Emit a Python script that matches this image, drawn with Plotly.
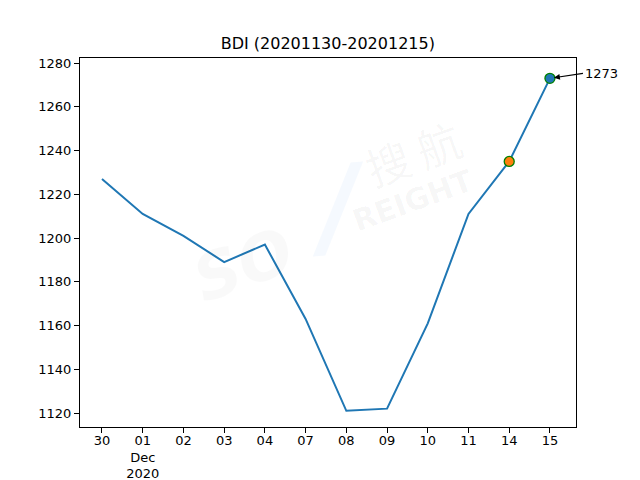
import plotly.graph_objects as go

dates = ["2020-11-30", "2020-12-01", "2020-12-02", "2020-12-03", "2020-12-04",
         "2020-12-07", "2020-12-08", "2020-12-09", "2020-12-10", "2020-12-11",
         "2020-12-14", "2020-12-15"]
tick_labels = ["30", "01<br>Dec<br>2020", "02", "03", "04", "07", "08", "09",
               "10", "11", "14", "15"]
bdi = [1227, 1211, 1201, 1189, 1197, 1163, 1121, 1122, 1161, 1211, 1235, 1273]
yticks = [1120, 1140, 1160, 1180, 1200, 1220, 1240, 1260, 1280]

fig = go.Figure()
fig.add_trace(go.Scatter(x=dates, y=bdi, mode="lines",
                         line=dict(color="#1f77b4", width=2), showlegend=False))
fig.add_trace(go.Scatter(x=[dates[-2]], y=[bdi[-2]], mode="markers",
                         marker=dict(color="#ff7f0e", size=10,
                                     line=dict(color="green", width=1.3)),
                         showlegend=False))
fig.add_trace(go.Scatter(x=[dates[-1]], y=[bdi[-1]], mode="markers",
                         marker=dict(color="#1f77b4", size=10,
                                     line=dict(color="green", width=1.3)),
                         showlegend=False))

fig.add_annotation(x=dates[-1], y=bdi[-1], text=str(bdi[-1]),
                   showarrow=True, ax=33, ay=-5, xanchor="left",
                   arrowhead=2, arrowsize=1, arrowwidth=1.2, arrowcolor="black",
                   standoff=4,
                   font=dict(size=13, color="black", family="DejaVu Sans"))

# faint watermark
wm = "rgba(0,0,0,0.04)"
fig.add_annotation(xref="paper", yref="paper", x=0.671, y=0.743, text="搜 航",
                   xanchor="center", yanchor="middle",
                   showarrow=False, textangle=-20,
                   font=dict(size=44, color=wm, family="Noto Sans CJK SC"))
fig.add_annotation(xref="paper", yref="paper", x=0.671, y=0.615, text="<b>REIGHT</b>",
                   xanchor="center", yanchor="middle",
                   showarrow=False, textangle=-20,
                   font=dict(size=30, color=wm, family="DejaVu Sans"))
fig.add_annotation(xref="paper", yref="paper", x=0.33, y=0.44, text="<b><i>SO</i></b>",
                   xanchor="center", yanchor="middle",
                   showarrow=False, textangle=-20,
                   font=dict(size=64, color="rgba(0,0,0,0.025)", family="DejaVu Sans"))
fig.add_annotation(xref="paper", yref="paper", x=0.52, y=0.60, text="<b><i>/</i></b>",
                   xanchor="center", yanchor="middle",
                   showarrow=False, textangle=-5,
                   font=dict(size=110, color="rgba(90,160,230,0.06)", family="DejaVu Sans"))

fig.update_layout(
    width=632, height=472,
    margin=dict(l=72, r=64, t=50, b=53, autoexpand=False),
    paper_bgcolor="white", plot_bgcolor="white",
    font=dict(family="DejaVu Sans", size=13, color="black"),
    title=dict(text="BDI (20201130-20201215)", x=0.506, xanchor="center",
               y=0.924, yanchor="middle", font=dict(size=16)),
)
fig.update_xaxes(type="category", categoryorder="array", categoryarray=dates,
                 tickmode="array", tickvals=dates, ticktext=tick_labels,
                 range=[-0.54, 11.64], showgrid=False, zeroline=False,
                 showline=True, linecolor="black", linewidth=1, mirror=True,
                 ticks="outside", ticklen=5, tickcolor="black", automargin=False,
                 ticklabelstandoff=-4)
fig.update_yaxes(range=[1113.6, 1282.3], tickvals=yticks, showgrid=False,
                 zeroline=False, showline=True, linecolor="black", linewidth=1,
                 mirror=True, ticks="outside", ticklen=5, tickcolor="black",
                 automargin=False)

fig.write_html("out.html")
